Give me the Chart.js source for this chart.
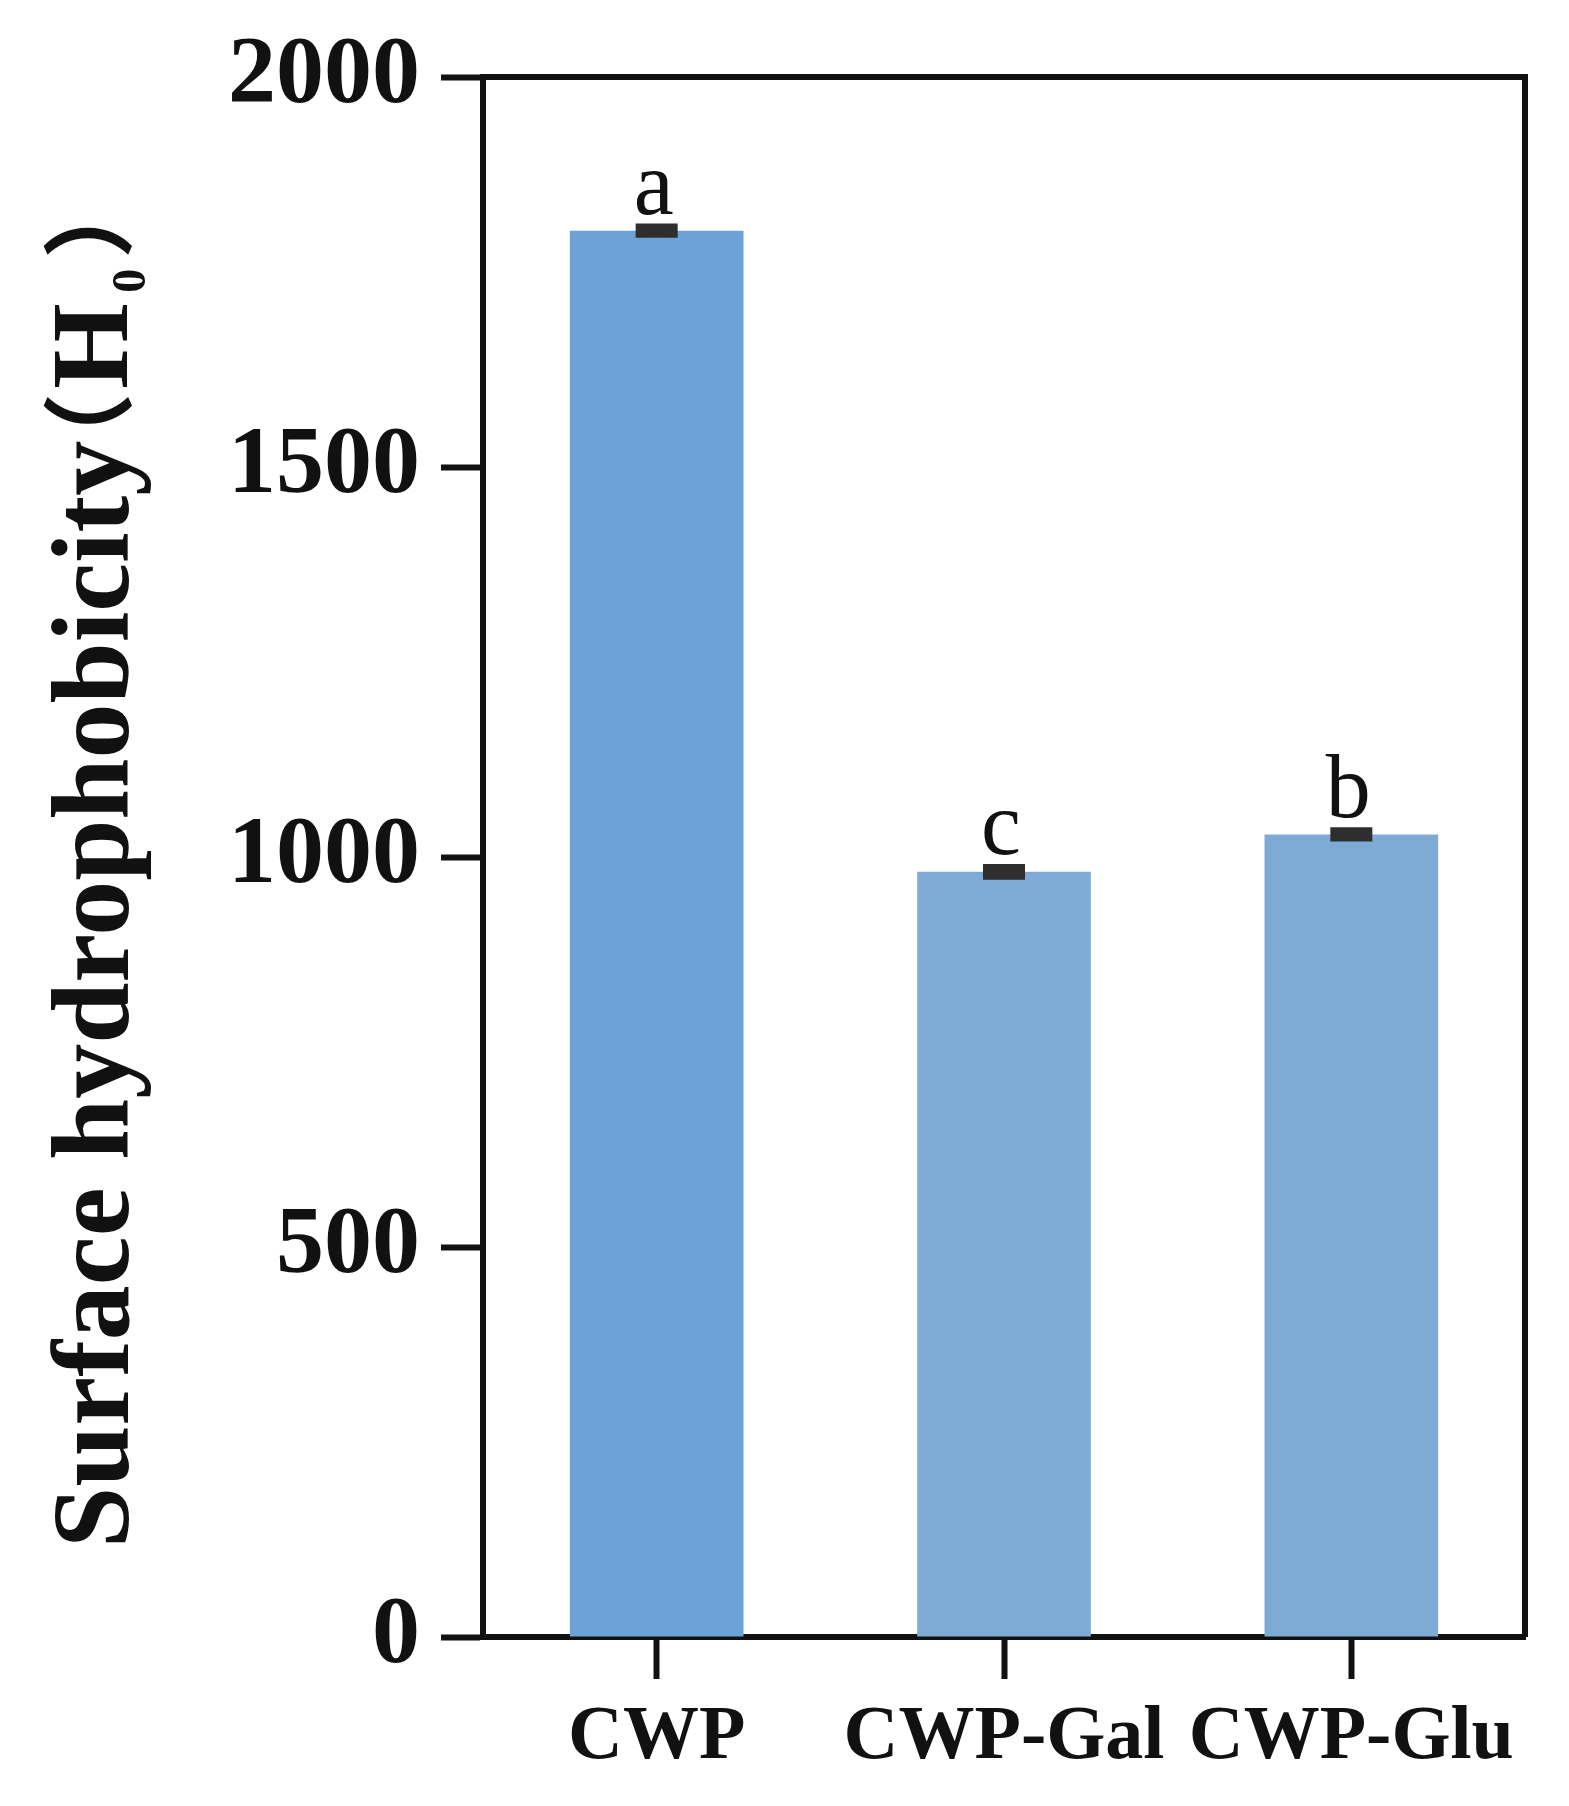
<!DOCTYPE html>
<html>
<head>
<meta charset="utf-8">
<script src="https://cdn.jsdelivr.net/npm/chart.js@4.4.0/dist/chart.umd.min.js"></script>
<style>
  html, body { margin: 0; padding: 0; background: #fff; }
  #wrap { width: 1569px; height: 1806px; }
</style>
</head>
<body>
<div id="wrap"><canvas id="hydroChart" width="1569" height="1806"></canvas></div>
<script>
// data
const groups = ['CWP', 'CWP-Gal', 'CWP-Glu'];
const meanH0 = [1803, 981, 1029];
const sdH0 = [4, 5, 4];
const sigLetters = ['a', 'c', 'b'];
const yTicks = [0, 500, 1000, 1500, 2000];
const barColors = ['#6CA2D6', '#7DABD5', '#7DABD5'];

const SERIF = "'Liberation Serif', 'Times New Roman', serif";
const INK = '#111111';
const LINE_W = 6;

// error bars + significance letters
const errorBarPlugin = {
    id: 'errorBars',
    afterDatasetsDraw(chart) {
        const ctx = chart.ctx;
        const yScale = chart.scales.y;
        const bars = chart.getDatasetMeta(0).data;
        ctx.save();
        bars.forEach(function(bar, i) {
            const yHi = yScale.getPixelForValue(meanH0[i] + sdH0[i]);
            const yLo = yScale.getPixelForValue(meanH0[i] - sdH0[i]);
            const half = 21;
            ctx.strokeStyle = '#2E2E2E';
            ctx.lineWidth = 8;
            ctx.lineCap = 'butt';
            ctx.beginPath();
            ctx.moveTo(bar.x - half, yHi);
            ctx.lineTo(bar.x + half, yHi);
            ctx.moveTo(bar.x - half, yLo);
            ctx.lineTo(bar.x + half, yLo);
            ctx.stroke();
            ctx.beginPath();
            ctx.moveTo(bar.x, yHi);
            ctx.lineTo(bar.x, yLo);
            ctx.stroke();

            ctx.fillStyle = INK;
            ctx.font = '90px ' + SERIF;
            ctx.textAlign = 'center';
            ctx.textBaseline = 'alphabetic';
            ctx.fillText(sigLetters[i], bar.x - 3, yHi - 4 - 10);
        });
        ctx.restore();
    }
};

// closed frame round the plot area
const framePlugin = {
    id: 'frame',
    afterDraw(chart) {
        const a = chart.chartArea;
        const ctx = chart.ctx;
        ctx.save();
        ctx.strokeStyle = INK;
        ctx.lineWidth = LINE_W;
        ctx.beginPath();
        ctx.moveTo(a.left - 3, a.top);
        ctx.lineTo(a.right, a.top);
        ctx.lineTo(a.right, a.bottom);
        ctx.stroke();
        ctx.restore();
    }
};

// rotated y title with subscript
const yTitlePlugin = {
    id: 'yTitle',
    afterDraw(chart) {
        const ctx = chart.ctx;
        const a = chart.chartArea;
        ctx.save();
        ctx.translate(128, a.bottom - 94);
        ctx.rotate(-Math.PI / 2);
        ctx.fillStyle = INK;
        ctx.textAlign = 'left';
        ctx.textBaseline = 'alphabetic';

        ctx.font = 'bold 110px ' + SERIF;
        const main = 'Surface hydrophobicity';
        let m = ctx.measureText(main);
        ctx.fillText(main, m.actualBoundingBoxLeft, 0);
        const end = m.actualBoundingBoxLeft + m.actualBoundingBoxRight;

        function piece(txt, font, start, inkTop) {
            ctx.font = font;
            const mm = ctx.measureText(txt);
            ctx.fillText(txt, start + mm.actualBoundingBoxLeft, inkTop + mm.actualBoundingBoxAscent);
        }
        const cjk = "bold 92px 'Noto Sans CJK SC', sans-serif";
        piece('（', cjk, end + 17, -85);
        piece('H', 'bold 110px ' + SERIF, end + 54, -73);
        piece('0', 'bold 48px ' + SERIF, end + 150, -15);
        piece('）', cjk, end + 187, -85);
        ctx.restore();
    }
};

const ctx = document.getElementById('hydroChart').getContext('2d');
new Chart(ctx, {
    type: 'bar',
    data: {
        labels: groups,
        datasets: [{
            data: meanH0,
            backgroundColor: barColors,
            borderWidth: 0,
            categoryPercentage: 1,
            barPercentage: 0.5
        }]
    },
    options: {
        responsive: false,
        devicePixelRatio: 1,
        animation: false,
        layout: { padding: { top: 77, right: 44, left: 0, bottom: 0 } },
        plugins: {
            legend: { display: false },
            tooltip: { enabled: false }
        },
        scales: {
            x: {
                offset: true,
                grid: {
                    offset: false,
                    drawOnChartArea: false,
                    tickLength: 42,
                    tickWidth: LINE_W,
                    tickColor: INK
                },
                border: { display: true, width: LINE_W, color: INK },
                ticks: {
                    color: INK,
                    padding: 21,
                    maxRotation: 0,
                    font: { family: SERIF, size: 76, weight: 'bold', lineHeight: 1 }
                },
                afterFit(scale) { scale.height = 169; }
            },
            y: {
                min: 0,
                max: 2000,
                afterBuildTicks(scale) {
                    scale.ticks = yTicks.map(v => ({ value: v }));
                },
                grid: {
                    drawOnChartArea: false,
                    tickLength: 42,
                    tickWidth: LINE_W,
                    tickColor: INK
                },
                border: { display: true, width: LINE_W, color: INK },
                ticks: {
                    color: INK,
                    padding: 21,
                    font: { family: SERIF, size: 96, weight: 'bold', lineHeight: 1 },
                    callback: function(value) {
                        return String(value);
                    }
                },
                afterFit(scale) { scale.width = 483; }
            }
        }
    },
    plugins: [errorBarPlugin, framePlugin, yTitlePlugin]
});
</script>
</body>
</html>
